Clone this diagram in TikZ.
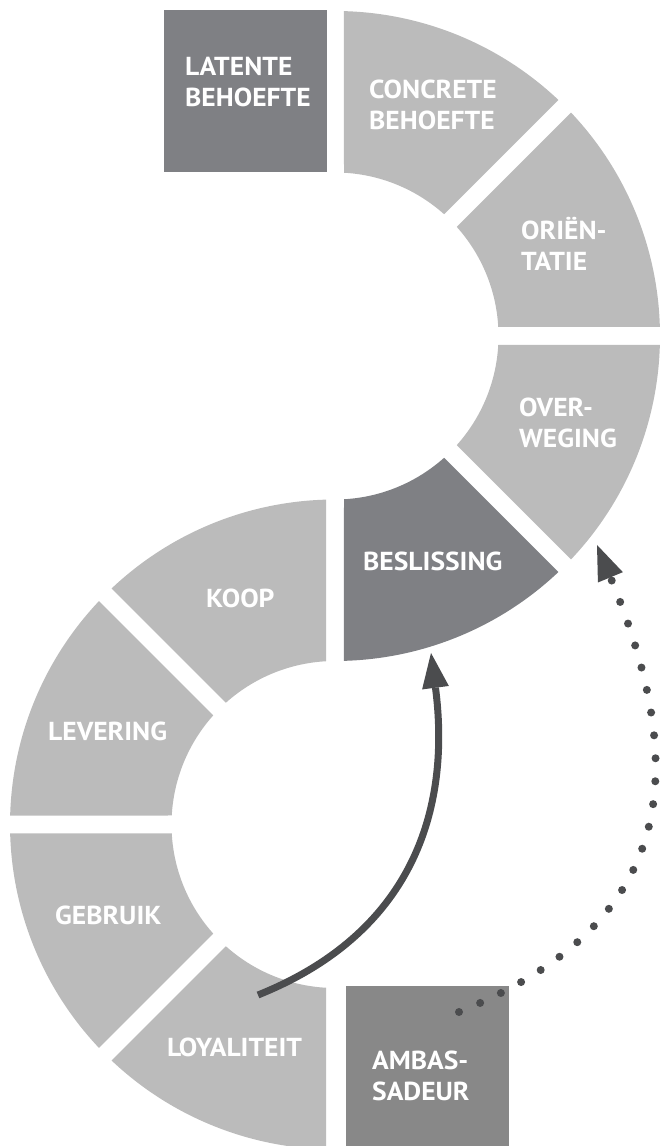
\documentclass[tikz,border=0pt]{standalone}
\usepackage{fontspec}
\setmainfont{PT Sans}
\newfontfamily\lblfont{PT Sans}[FakeStretch=1.06]
\usetikzlibrary{arrows.meta,calc}
\definecolor{segl}{HTML}{BBBBBB}
\definecolor{segd}{HTML}{7F8084}
\definecolor{ambc}{HTML}{888888}
\definecolor{arrc}{HTML}{4B4C4E}
\pgfmathsetmacro{\rOut}{325}
\pgfmathsetmacro{\rIn}{163.5}
\pgfmathsetmacro{\dOut}{asin(9/325)}
\pgfmathsetmacro{\dIn}{asin(9/163.5)}
\newcommand{\ringseg}[4]{%
  \fill[#4] ($(#1)+(#2-\dOut:\rOut)$) arc[start angle=#2-\dOut, end angle=#3+\dOut, radius=\rOut]
    -- ($(#1)+(#3+\dIn:\rIn)$) arc[start angle=#3+\dIn, end angle=#2-\dIn, radius=\rIn] -- cycle;}
\tikzset{
  lbl/.style={anchor=base west, inner sep=0pt, text=white, font=\lblfont\bfseries\fontsize{26}{31}\selectfont},
  tipstyle/.style={-{Triangle[length=35pt,width=27pt,line width=0pt 0]}},
  solidarrow/.style={draw=arrc, line width=7pt, tipstyle},
  dotarrow/.style={draw=arrc, line width=8pt, line cap=round, dash pattern=on 0pt off 23pt, tipstyle},
}
\newcommand{\twol}[2]{\begin{tabular}[t]{@{}l@{}}#1\\#2\end{tabular}}
\begin{document}
\begin{tikzpicture}[x=1pt,y=1pt]
\useasboundingbox (0,0) rectangle (662,1146);
\clip (0,0) rectangle (662,1146);
\coordinate (U) at (335,810);
\coordinate (L) at (335,321.5);
% upper ring
\ringseg{U}{90}{45}{segl}
\ringseg{U}{45}{0}{segl}
\ringseg{U}{0}{-45}{segl}
\ringseg{U}{-45}{-90}{segd}
% lower ring
\ringseg{L}{135}{90}{segl}
\ringseg{L}{180}{135}{segl}
\ringseg{L}{225}{180}{segl}
\ringseg{L}{270}{225}{segl}
% boxes
\fill[segd] (164,974) rectangle (327,1136);
\fill[ambc] (346,-5) rectangle (509,160);
% labels
\node[lbl] (latente) at (185,1070) {\twol{LATENTE}{BEHOEFTE}};
\node[lbl] (concrete) at (369,1047) {\twol{CONCRETE}{BEHOEFTE}};
\node[lbl] (orientatie) at (521,906) {\twol{ORIËN-}{TATIE}};
\node[lbl] (overweging) at (519,729) {\twol{OVER-}{WEGING}};
\node[lbl] (beslissing) at (363,575) {BESLISSING};
\node[lbl] (koop) at (206,538) {KOOP};
\node[lbl] (levering) at (48,405) {LEVERING};
\node[lbl] (gebruik) at (55,221) {GEBRUIK};
\node[lbl] (loyaliteit) at (167,89) {LOYALITEIT};
\node[lbl] (ambassadeur) at (372,76) {\twol{AMBAS-}{SADEUR}};
% connectors
\coordinate (s1) at (258,151);
\coordinate (t1) at (431,493);
\draw[solidarrow] (s1) .. controls (420,216) and (450,346) .. (t1);
\coordinate (s2) at (459,134);
\coordinate (t2) at (597,601);
\draw[dotarrow] (s2) .. controls (681,224) and (689,379) .. (t2);
\end{tikzpicture}
\end{document}
